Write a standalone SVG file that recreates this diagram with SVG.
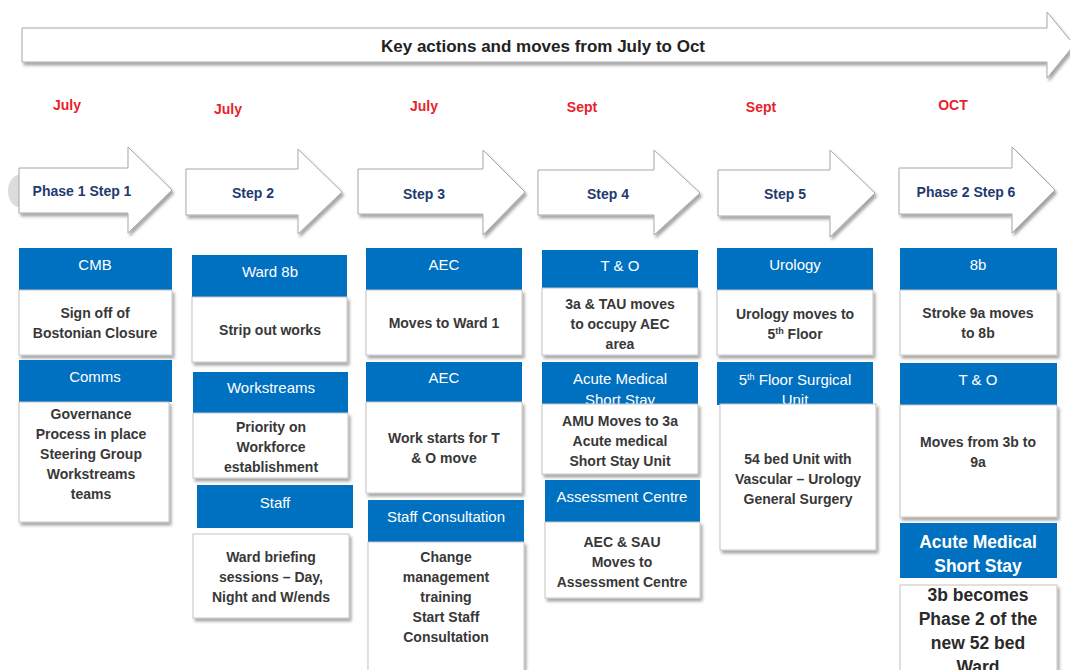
<svg xmlns="http://www.w3.org/2000/svg" width="1070" height="670" viewBox="0 0 1070 670">
<defs>
<filter id="sh" x="-10%" y="-10%" width="130%" height="140%">
<feDropShadow dx="2" dy="3" stdDeviation="1.5" flood-color="#000" flood-opacity="0.35"/>
</filter>
<style>
.hdr{fill:#0070C0}
.box{fill:#fff;stroke:#c4c4c4;stroke-width:1}
.arr{fill:#fff;stroke:#a8a8a8;stroke-width:1}
.ht{font-family:"Liberation Sans",Arial,sans-serif;font-size:15px;fill:#fff;text-anchor:middle}
.hb{font-family:"Liberation Sans",Arial,sans-serif;font-size:17.5px;font-weight:bold;fill:#fff;text-anchor:middle}
.bt{font-family:"Liberation Sans",Arial,sans-serif;font-size:14px;font-weight:bold;fill:#383838;text-anchor:middle}
.bb{font-family:"Liberation Sans",Arial,sans-serif;font-size:17.5px;font-weight:bold;fill:#2a2a2a;text-anchor:middle}
.mon{font-family:"Liberation Sans",Arial,sans-serif;font-size:14px;font-weight:bold;fill:#E8222A;text-anchor:middle}
.st{font-family:"Liberation Sans",Arial,sans-serif;font-size:14px;font-weight:bold;fill:#1F3A6E;text-anchor:middle}
.ti{font-family:"Liberation Sans",Arial,sans-serif;font-size:17px;font-weight:bold;fill:#222;text-anchor:middle}
.sup{font-size:9px}
</style>
</defs>
<rect width="1070" height="670" fill="#fff"/>

<g id="timeline">
<polygon class="arr" filter="url(#sh)" points="22,28 1047,28 1047,12 1074,45 1047,78 1047,62 22,62"/>
<text class="ti" x="543" y="52">Key actions and moves from July to Oct</text>
</g>

<g id="months">
<text class="mon" x="67" y="110">July</text>
<text class="mon" x="228" y="114">July</text>
<text class="mon" x="424" y="111">July</text>
<text class="mon" x="582" y="112">Sept</text>
<text class="mon" x="761" y="112">Sept</text>
<text class="mon" x="953" y="110">OCT</text>
</g>

<path d="M19,175 A11,16 0 0 0 19,207 Z" fill="#dcdcdc"/>
<g id="step1">
<polygon class="arr" filter="url(#sh)" points="19,168 128,168 128,147 172,190 128,233 128,213 19,213"/>
<text class="st" x="82" y="196">Phase 1 Step 1</text>
</g>
<g id="step2">
<polygon class="arr" filter="url(#sh)" points="186,169 298,169 298,149 342,192 298,234 298,215 186,215"/>
<text class="st" x="253" y="198">Step 2</text>
</g>
<g id="step3">
<polygon class="arr" filter="url(#sh)" points="358,169 483,169 483,150 525,192 483,235 483,214 358,214"/>
<text class="st" x="424" y="199">Step 3</text>
</g>
<g id="step4">
<polygon class="arr" filter="url(#sh)" points="538,170 654,170 654,150 700,193 654,235 654,215 538,215"/>
<text class="st" x="608" y="199">Step 4</text>
</g>
<g id="step5">
<polygon class="arr" filter="url(#sh)" points="718,170 830,170 830,150 875,193 830,237 830,216 718,216"/>
<text class="st" x="785" y="199">Step 5</text>
</g>
<g id="step6">
<polygon class="arr" filter="url(#sh)" points="899,168 1012,168 1012,147 1055,190 1012,233 1012,214 899,214"/>
<text class="st" x="966" y="197">Phase 2 Step 6</text>
</g>

<!-- Column 1 -->
<g id="cmb">
<rect class="hdr" x="19" y="248" width="153" height="42"/>
<text class="ht" x="95" y="270">CMB</text>
<rect class="box" filter="url(#sh)" x="19" y="290" width="153" height="65"/>
<text class="bt" x="95" y="318">Sign off of</text>
<text class="bt" x="95" y="338">Bostonian Closure</text>
</g>
<g id="comms">
<rect class="hdr" x="19" y="360" width="153" height="42"/>
<text class="ht" x="95" y="382">Comms</text>
<rect class="box" filter="url(#sh)" x="19" y="402" width="150" height="120"/>
<text class="bt" x="91" y="419">Governance</text>
<text class="bt" x="91" y="439">Process in place</text>
<text class="bt" x="91" y="459">Steering Group</text>
<text class="bt" x="91" y="479">Workstreams</text>
<text class="bt" x="91" y="499">teams</text>
</g>

<!-- Column 2 -->
<g id="ward8b">
<rect class="hdr" x="192" y="255" width="155" height="42"/>
<text class="ht" x="270" y="277">Ward 8b</text>
<rect class="box" filter="url(#sh)" x="192" y="297" width="155" height="65"/>
<text class="bt" x="270" y="335">Strip out works</text>
</g>
<g id="workstreams">
<rect class="hdr" x="193" y="372" width="155" height="41"/>
<text class="ht" x="271" y="393">Workstreams</text>
<rect class="box" filter="url(#sh)" x="193" y="413" width="155" height="65"/>
<text class="bt" x="271" y="432">Priority on</text>
<text class="bt" x="271" y="452">Workforce</text>
<text class="bt" x="271" y="472">establishment</text>
</g>
<g id="staff">
<rect class="hdr" x="197" y="485" width="156" height="43"/>
<text class="ht" x="275" y="508">Staff</text>
<rect class="box" filter="url(#sh)" x="193" y="534" width="156" height="84"/>
<text class="bt" x="271" y="562">Ward briefing</text>
<text class="bt" x="271" y="582">sessions – Day,</text>
<text class="bt" x="271" y="602">Night and W/ends</text>
</g>

<!-- Column 3 -->
<g id="aec1">
<rect class="hdr" x="366" y="248" width="156" height="42"/>
<text class="ht" x="444" y="270">AEC</text>
<rect class="box" filter="url(#sh)" x="366" y="290" width="156" height="65"/>
<text class="bt" x="444" y="328">Moves to Ward 1</text>
</g>
<g id="aec2">
<rect class="hdr" x="366" y="362" width="156" height="40"/>
<text class="ht" x="444" y="383">AEC</text>
<rect class="box" filter="url(#sh)" x="366" y="402" width="156" height="91"/>
<text class="bt" x="444" y="443">Work starts for T</text>
<text class="bt" x="444" y="463">&amp; O move</text>
</g>
<g id="staffconsult">
<rect class="hdr" x="368" y="500" width="156" height="42"/>
<text class="ht" x="446" y="522">Staff Consultation</text>
<rect class="box" filter="url(#sh)" x="368" y="542" width="156" height="140"/>
<text class="bt" x="446" y="562">Change</text>
<text class="bt" x="446" y="582">management</text>
<text class="bt" x="446" y="602">training</text>
<text class="bt" x="446" y="622">Start Staff</text>
<text class="bt" x="446" y="642">Consultation</text>
</g>

<!-- Column 4 -->
<g id="tando1">
<rect class="hdr" x="542" y="250" width="156" height="38"/>
<text class="ht" x="620" y="271">T &amp; O</text>
<rect class="box" filter="url(#sh)" x="542" y="288" width="156" height="67"/>
<text class="bt" x="620" y="309">3a &amp; TAU moves</text>
<text class="bt" x="620" y="329">to occupy AEC</text>
<text class="bt" x="620" y="349">area</text>
</g>
<g id="amss1">
<rect class="hdr" x="542" y="362" width="156" height="43"/>
<text class="ht" x="620" y="384">Acute Medical</text>
<text class="ht" x="620" y="405">Short Stay</text>
<rect class="box" filter="url(#sh)" x="542" y="404" width="156" height="70"/>
<text class="bt" x="620" y="426">AMU Moves to 3a</text>
<text class="bt" x="620" y="446">Acute medical</text>
<text class="bt" x="620" y="466">Short Stay Unit</text>
</g>
<g id="assess">
<rect class="hdr" x="545" y="480" width="155" height="42"/>
<text class="ht" x="622" y="502">Assessment Centre</text>
<rect class="box" filter="url(#sh)" x="545" y="522" width="155" height="76"/>
<text class="bt" x="622" y="547">AEC  &amp; SAU</text>
<text class="bt" x="622" y="567">Moves to</text>
<text class="bt" x="622" y="587">Assessment Centre</text>
</g>

<!-- Column 5 -->
<g id="urology">
<rect class="hdr" x="717" y="248" width="156" height="42"/>
<text class="ht" x="795" y="270">Urology</text>
<rect class="box" filter="url(#sh)" x="717" y="290" width="156" height="65"/>
<text class="bt" x="795" y="319">Urology moves to</text>
<text class="bt" x="795" y="339">5<tspan class="sup" dy="-5">th</tspan><tspan dy="5"> Floor</tspan></text>
</g>
<g id="surgical">
<rect class="hdr" x="717" y="362" width="156" height="43"/>
<text class="ht" x="795" y="385">5<tspan class="sup" dy="-5">th</tspan><tspan dy="5"> Floor Surgical</tspan></text>
<text class="ht" x="795" y="405">Unit</text>
<rect class="box" filter="url(#sh)" x="720" y="404" width="156" height="146"/>
<text class="bt" x="798" y="464">54 bed Unit with</text>
<text class="bt" x="798" y="484">Vascular – Urology</text>
<text class="bt" x="798" y="504">General Surgery</text>
</g>

<!-- Column 6 -->
<g id="w8b">
<rect class="hdr" x="900" y="248" width="157" height="42"/>
<text class="ht" x="978" y="270">8b</text>
<rect class="box" filter="url(#sh)" x="900" y="290" width="157" height="65"/>
<text class="bt" x="978" y="318">Stroke 9a moves</text>
<text class="bt" x="978" y="338">to 8b</text>
</g>
<g id="tando2">
<rect class="hdr" x="900" y="363" width="157" height="42"/>
<text class="ht" x="978" y="385">T &amp; O</text>
<rect class="box" filter="url(#sh)" x="900" y="405" width="157" height="112"/>
<text class="bt" x="978" y="447">Moves from 3b to</text>
<text class="bt" x="978" y="467">9a</text>
</g>
<g id="amss2">
<rect class="hdr" x="900" y="523" width="157" height="55"/>
<text class="hb" x="978" y="548">Acute Medical</text>
<text class="hb" x="978" y="572">Short Stay</text>
<rect class="box" filter="url(#sh)" x="900" y="585" width="157" height="100"/>
<text class="bb" x="978" y="601">3b becomes</text>
<text class="bb" x="978" y="625">Phase 2 of the</text>
<text class="bb" x="978" y="649">new 52 bed</text>
<text class="bb" x="978" y="673">Ward</text>
</g>

<g id="connectors"></g>
</svg>
